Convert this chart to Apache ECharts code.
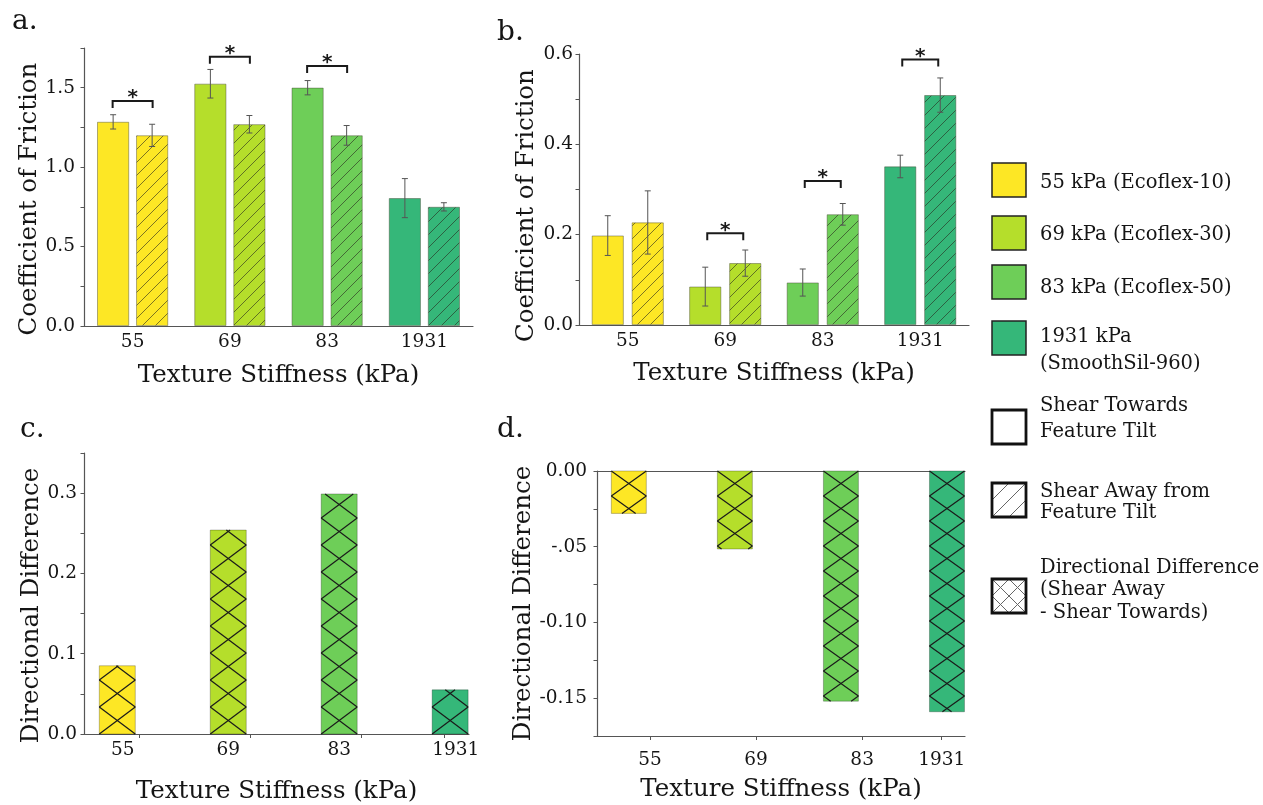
<!DOCTYPE html>
<html><head><meta charset="utf-8">
<script src="https://cdn.jsdelivr.net/npm/echarts/dist/echarts.min.js"></script>
<style>html,body{margin:0;padding:0;background:#fff}#c{width:1263px;height:805px}</style>
</head><body><div id="c"></div>
<script>
// ---------- data ----------
const categories = ['55', '69', '83', '1931'];
const aTowards = [1.285, 1.525, 1.50, 0.805];
const aTowardsErr = [0.045, 0.09, 0.045, 0.123];
const aAway = [1.20, 1.27, 1.20, 0.75];
const aAwayErr = [0.07, 0.055, 0.062, 0.026];
const aSig = [[0, 1.416], [1, 1.695], [2, 1.636]];
const bTowards = [0.198, 0.085, 0.094, 0.351];
const bTowardsErr = [0.044, 0.043, 0.030, 0.025];
const bAway = [0.227, 0.137, 0.245, 0.509];
const bAwayErr = [0.070, 0.029, 0.024, 0.038];
const bSig = [[1, 0.203], [2, 0.319], [3, 0.588]];
const cDiff = [0.085, 0.254, 0.299, 0.055];
const dDiff = [-0.028, -0.0515, -0.152, -0.159];
const aYTicks = [0, 0.5, 1.0, 1.5];
const aYLabels = ['0.0', '0.5', '1.0', '1.5'];
const bYTicks = [0, 0.2, 0.4, 0.6];
const bYLabels = ['0.0', '0.2', '0.4', '0.6'];
const cYTicks = [0, 0.1, 0.2, 0.3];
const cYLabels = ['0.0', '0.1', '0.2', '0.3'];
const dYTicks = [0, -0.05, -0.10, -0.15];
const dYLabels = ['0.00', '-.05', '-0.10', '-0.15'];
const xTitle = 'Texture Stiffness (kPa)';
const abYTitle = 'Coefficient of Friction';
const cdYTitle = 'Directional Difference';
const panelLetters = ['a.', 'b.', 'c.', 'd.'];
const legendLabels = [
  ['55 kPa (Ecoflex-10)'],
  ['69 kPa (Ecoflex-30)'],
  ['83 kPa (Ecoflex-50)'],
  ['1931 kPa', '(SmoothSil-960)'],
  ['Shear Towards', 'Feature Tilt'],
  ['Shear Away from', 'Feature Tilt'],
  ['Directional Difference', '(Shear Away', '- Shear Towards)']
];

// ---------- styles ----------
const palette = ['#fde725', '#b5de2b', '#6ece58', '#35b779'];
const SERIF = '"DejaVu Serif", serif';
const TXT = '#151515';
const AX = '#555';

function hatch(color) {
  const S = 13, cv = document.createElement('canvas');
  cv.width = S; cv.height = S;
  const g = cv.getContext('2d');
  g.fillStyle = color; g.fillRect(0, 0, S, S);
  g.strokeStyle = 'rgba(40,40,30,0.6)'; g.lineWidth = 1;
  g.beginPath();
  for (const k of [-1, 0, 1]) { g.moveTo(k * S, S); g.lineTo(k * S + S, 0); }
  g.stroke();
  return { image: cv, repeat: 'repeat' };
}

function lookup(ticks, labels) {
  return function (v) {
    for (let i = 0; i < ticks.length; i++) if (Math.abs(ticks[i] - v) < 1e-9) return labels[i];
    return '';
  };
}

function errItem(off) {
  return function (params, api) {
    const i = api.value(0), m = api.value(1), e = api.value(2);
    const hi = api.coord([i, m + e]), lo = api.coord([i, m - e]);
    const x = hi[0] + off, cap = 3;
    const st = { stroke: '#555', lineWidth: 1 };
    return { type: 'group', children: [
      { type: 'line', shape: { x1: x, y1: hi[1], x2: x, y2: lo[1] }, style: st },
      { type: 'line', shape: { x1: x - cap, y1: hi[1], x2: x + cap, y2: hi[1] }, style: st },
      { type: 'line', shape: { x1: x - cap, y1: lo[1], x2: x + cap, y2: lo[1] }, style: st }
    ]};
  };
}

function sigItem(hw) {
  return function (params, api) {
    const p = api.coord([api.value(0), api.value(1)]);
    const x = p[0], y = p[1];
    return { type: 'group', children: [
      { type: 'polyline', shape: { points: [[x - hw, y + 7], [x - hw, y], [x + hw, y], [x + hw, y + 7]] },
        style: { stroke: '#1a1a1a', lineWidth: 2, fill: null } },
      { type: 'text', x: x, y: y - 3,
        style: { text: '*', fill: '#1a1a1a', font: 'bold 20px "DejaVu Sans"', align: 'center', verticalAlign: 'middle' } }
    ]};
  };
}

function crossItem(w, H) {
  return function (params, api) {
    const i = api.value(0), v = api.value(1);
    const b = api.coord([i, 0]), t = api.coord([i, v]);
    const left = b[0] - w / 2, right = b[0] + w / 2;
    const dir = t[1] < b[1] ? -1 : 1;
    const h = Math.abs(t[1] - b[1]);
    const kids = [{ type: 'rect', shape: { x: left, y: Math.min(b[1], t[1]), width: w, height: h },
      style: { fill: palette[i], stroke: 'rgba(0,0,0,0.25)', lineWidth: 1 } }];
    const n = Math.ceil(h / H) + 1;
    for (let k = 0; k < n; k++) {
      for (const pr of [[k * H, (k + 1) * H], [(k + 1) * H, k * H]]) {
        const sa = pr[0], sb = pr[1], ds = sb - sa;
        let u0, u1;
        if (ds > 0) { u0 = Math.max(0, -sa / ds); u1 = Math.min(1, (h - sa) / ds); }
        else { u0 = Math.max(0, (h - sa) / ds); u1 = Math.min(1, -sa / ds); }
        if (u1 <= u0) continue;
        kids.push({ type: 'line', shape: {
          x1: left + w * u0, y1: b[1] + dir * (sa + ds * u0),
          x2: left + w * u1, y2: b[1] + dir * (sa + ds * u1) },
          style: { stroke: '#1a1a1a', lineWidth: 1.2 } });
      }
    }
    return { type: 'group', children: kids };
  };
}

const nameStyle = { fontFamily: SERIF, fontSize: 24.5, color: TXT };
const tickLabel = { fontFamily: SERIF, fontSize: 18.5, color: TXT };

function catX(grid, gap) {
  return { gridIndex: grid, type: 'category', data: categories,
    axisLine: { lineStyle: { color: AX, width: 1.2 } },
    axisTick: { length: 3, lineStyle: { color: AX } },
    axisLabel: Object.assign({ margin: 7 }, tickLabel),
    name: xTitle, nameLocation: 'middle', nameGap: gap, nameTextStyle: nameStyle };
}
function valX(grid, tickPos, labelPos, margin, gap) {
  return { gridIndex: grid, type: 'value', min: -0.3, max: 3.17,
    axisLine: { show: true, onZero: false, lineStyle: { color: AX, width: 1.2 } },
    axisTick: { show: true, length: 4, customValues: tickPos, lineStyle: { color: AX } },
    axisLabel: Object.assign({ margin: margin, customValues: labelPos,
      formatter: v => categories[Math.round(v)] || '' }, tickLabel),
    splitLine: { show: false },
    name: xTitle, nameLocation: 'middle', nameGap: gap, nameTextStyle: nameStyle };
}
function valY(grid, min, max, interval, ticks, labels, margin, name, gap, pad) {
  return { gridIndex: grid, type: 'value', min: min, max: max, interval: interval,
    axisLine: { show: true, onZero: false, lineStyle: { color: AX, width: 1.2 } },
    axisTick: { show: true, length: 3.5, lineStyle: { color: AX } },
    axisLabel: Object.assign({ margin: margin, customValues: ticks, formatter: lookup(ticks, labels) }, tickLabel),
    splitLine: { show: false },
    name: name, nameLocation: 'middle', nameGap: gap,
    nameTextStyle: Object.assign({ padding: [0, pad, 0, 0] }, nameStyle) };
}

const graphics = [];
const letterPos = [[12, 22], [497, 33], [20, 430], [497, 430]];
panelLetters.forEach((t, i) => graphics.push({ type: 'text', x: letterPos[i][0], y: letterPos[i][1],
  style: { text: t, font: '28px ' + SERIF, fill: TXT, verticalAlign: 'middle' } }));

const sqTop = [163, 216, 265, 321, 410, 483, 579];
const lineY = [[183], [235], [288], [337, 364], [406, 432], [492, 513], [568, 590, 613]];
const SQ = 34, SX = 992;
legendLabels.forEach((lines, i) => {
  const y0 = sqTop[i];
  if (i < 4) {
    graphics.push({ type: 'rect', shape: { x: SX, y: y0, width: SQ, height: SQ },
      style: { fill: palette[i], stroke: '#222', lineWidth: 1.5 } });
  } else {
    const segs = [];
    if (i >= 5) {
      segs.push([SX, y0 + SQ, SX + SQ, y0], [SX, y0 + SQ / 2, SX + SQ / 2, y0], [SX + SQ / 2, y0 + SQ, SX + SQ, y0 + SQ / 2]);
    }
    if (i === 6) {
      segs.push([SX, y0, SX + SQ, y0 + SQ], [SX + SQ / 2, y0, SX + SQ, y0 + SQ / 2], [SX, y0 + SQ / 2, SX + SQ / 2, y0 + SQ]);
    }
    segs.forEach(s => graphics.push({ type: 'line', shape: { x1: s[0], y1: s[1], x2: s[2], y2: s[3] },
      style: { stroke: '#666', lineWidth: 1 } }));
    graphics.push({ type: 'rect', shape: { x: SX, y: y0, width: SQ, height: SQ },
      style: { fill: null, stroke: '#111', lineWidth: 2.8 } });
  }
  lines.forEach((ln, j) => graphics.push({ type: 'text', x: 1040, y: lineY[i][j],
    style: { text: ln, font: '19.5px ' + SERIF, fill: TXT, verticalAlign: 'middle' } }));
});

const chart = echarts.init(document.getElementById('c'), null, { renderer: 'canvas' });
chart.setOption({
  animation: false,
  backgroundColor: '#fff',
  grid: [
    { left: 84, top: 48, width: 389, height: 278 },
    { left: 579, top: 54, width: 390, height: 271 },
    { left: 84, top: 453, width: 385, height: 281 },
    { left: 597, top: 471, width: 368, height: 265 }
  ],
  xAxis: [
    catX(0, 37),
    catX(1, 36),
    valX(2, [0.2, 1.2, 2.2, 2.95], [0.05, 1, 2, 3.05], 7, 45),
    valX(3, [0.2, 1.2, 2.2, 2.95], [0.2, 1.2, 2.2, 2.95], 15, 41),
    { gridIndex: 3, type: 'value', position: 'top', min: -0.3, max: 3.17,
      axisLine: { show: true, onZero: false, lineStyle: { color: AX, width: 1.2 } },
      axisTick: { show: false }, axisLabel: { show: false }, splitLine: { show: false } }
  ],
  yAxis: [
    valY(0, 0, 1.75, 0.25, aYTicks, aYLabels, 9, abYTitle, 36, 24),
    valY(1, 0, 0.6, 0.1, bYTicks, bYLabels, 6, abYTitle, 40, 32),
    valY(2, 0, 0.35, 0.05, cYTicks, cYLabels, 7, cdYTitle, 39, 24),
    valY(3, -0.175, 0, 0.025, dYTicks, dYLabels, 10, cdYTitle, 58, 0)
  ],
  graphic: graphics,
  series: [
    { type: 'bar', xAxisIndex: 0, yAxisIndex: 0, barWidth: 32, barGap: '22%',
      itemStyle: { borderColor: 'rgba(70,70,50,0.55)', borderWidth: 0.8 },
      data: aTowards.map((v, i) => ({ value: v, itemStyle: { color: palette[i] } })) },
    { type: 'bar', xAxisIndex: 0, yAxisIndex: 0, barWidth: 32, barGap: '22%',
      itemStyle: { borderColor: 'rgba(70,70,50,0.55)', borderWidth: 0.8 },
      data: aAway.map((v, i) => ({ value: v, itemStyle: { color: hatch(palette[i]) } })) },
    { type: 'custom', xAxisIndex: 0, yAxisIndex: 0, renderItem: errItem(-19.5),
      data: aTowards.map((v, i) => [i, v, aTowardsErr[i]]), z: 5 },
    { type: 'custom', xAxisIndex: 0, yAxisIndex: 0, renderItem: errItem(19.5),
      data: aAway.map((v, i) => [i, v, aAwayErr[i]]), z: 5 },
    { type: 'custom', xAxisIndex: 0, yAxisIndex: 0, renderItem: sigItem(20), data: aSig, z: 5 },

    { type: 'bar', xAxisIndex: 1, yAxisIndex: 1, barWidth: 32, barGap: '25%',
      itemStyle: { borderColor: 'rgba(70,70,50,0.55)', borderWidth: 0.8 },
      data: bTowards.map((v, i) => ({ value: v, itemStyle: { color: palette[i] } })) },
    { type: 'bar', xAxisIndex: 1, yAxisIndex: 1, barWidth: 32, barGap: '25%',
      itemStyle: { borderColor: 'rgba(70,70,50,0.55)', borderWidth: 0.8 },
      data: bAway.map((v, i) => ({ value: v, itemStyle: { color: hatch(palette[i]) } })) },
    { type: 'custom', xAxisIndex: 1, yAxisIndex: 1, renderItem: errItem(-20),
      data: bTowards.map((v, i) => [i, v, bTowardsErr[i]]), z: 5 },
    { type: 'custom', xAxisIndex: 1, yAxisIndex: 1, renderItem: errItem(20),
      data: bAway.map((v, i) => [i, v, bAwayErr[i]]), z: 5 },
    { type: 'custom', xAxisIndex: 1, yAxisIndex: 1, renderItem: sigItem(18), data: bSig, z: 5 },

    { type: 'custom', xAxisIndex: 2, yAxisIndex: 2, renderItem: crossItem(36, 27),
      encode: { x: 0, y: 1 }, data: cDiff.map((v, i) => [i, v]) },
    { type: 'custom', xAxisIndex: 3, yAxisIndex: 3, renderItem: crossItem(35, 25),
      encode: { x: 0, y: 1 }, data: dDiff.map((v, i) => [i, v]) }
  ]
});
</script></body></html>
